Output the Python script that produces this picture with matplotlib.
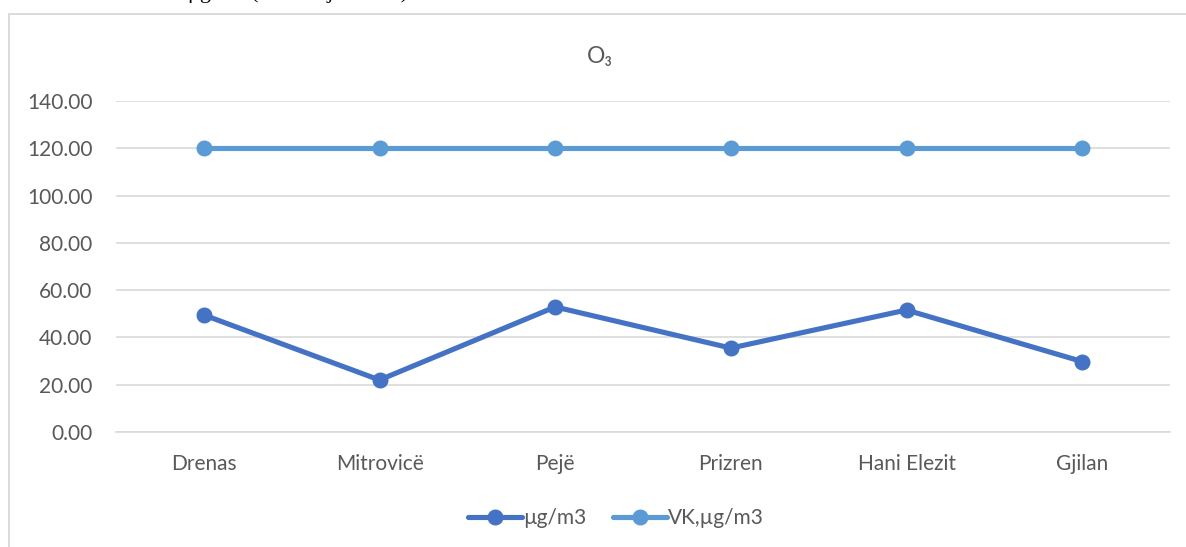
import matplotlib.pyplot as plt
from matplotlib.patches import Rectangle

# O3 concentrations per station against the limit value
stations = ['Drenas', 'Mitrovicë', 'Pejë', 'Prizren', 'Hani Elezit', 'Gjilan']
o3_values = [49.5, 22.0, 52.9, 35.5, 51.6, 29.8]
limit_values = [120, 120, 120, 120, 120, 120]
y_ticks = [0, 20, 40, 60, 80, 100, 120, 140]

DARK_BLUE = '#4472C4'
LIGHT_BLUE = '#5B9BD5'
GRID = '#D9D9D9'
TEXT = '#595959'
W, H = 1186, 547


def main():
    plt.rcParams['font.family'] = ['Lato', 'DejaVu Sans']
    fig = plt.figure(figsize=(W / 100, H / 100), dpi=100)

    # chart frame
    fig.patches.append(Rectangle((9 / W, -0.1), 1.2, 1 - 14 / H + 0.1,
                                 transform=fig.transFigure, fill=False,
                                 edgecolor=GRID, linewidth=1.3))

    # heading of the page above, cut off by the frame
    fig.text(188 / W, 1.012, 'μg/m3 (mesatarja ditore)', family='Liberation Serif',
             fontsize=16, color='black', va='center', ha='left')

    ax = fig.add_axes([116 / W, 1 - 432 / H, (1170 - 116) / W, (432 - 101) / H])
    x = range(len(stations))
    ax.plot(x, o3_values, color=DARK_BLUE, linewidth=3.7, marker='o',
            markersize=10.5, label='µg/m3', solid_capstyle='round', zorder=3)
    ax.plot(x, limit_values, color=LIGHT_BLUE, linewidth=3.7, marker='o',
            markersize=10.5, label='VK,µg/m3', solid_capstyle='round', zorder=3)

    ax.set_xlim(-0.5, len(stations) - 0.5)
    ax.set_ylim(0, 140)
    ax.set_yticks(y_ticks)
    ax.set_yticklabels([f'{v:.2f}' for v in y_ticks])
    ax.set_xticks(list(x))
    ax.set_xticklabels(stations)
    ax.yaxis.grid(True, color=GRID, linewidth=1.2)
    ax.set_axisbelow(True)
    for side in ['top', 'right', 'left']:
        ax.spines[side].set_visible(False)
    ax.spines['bottom'].set_color(GRID)
    ax.spines['bottom'].set_linewidth(1.2)
    ax.tick_params(axis='both', length=0, colors=TEXT, labelsize=15)
    ax.tick_params(axis='x', pad=16)
    ax.tick_params(axis='y', pad=17)

    # title and legend are centred on the whole chart area, not the plot
    fig.text(600 / W, 1 - 57 / H, 'O₃', color=TEXT, fontsize=16.5,
             ha='center', va='center')

    fig.legend(*ax.get_legend_handles_labels(), loc='center',
               bbox_to_anchor=(616 / W, 1 - 518 / H), ncol=2,
               frameon=False, fontsize=15, labelcolor=TEXT, handlelength=2.6,
               handletextpad=0.05, columnspacing=1.3)

    fig.savefig('out.png', dpi=100)


if __name__ == '__main__':
    main()
